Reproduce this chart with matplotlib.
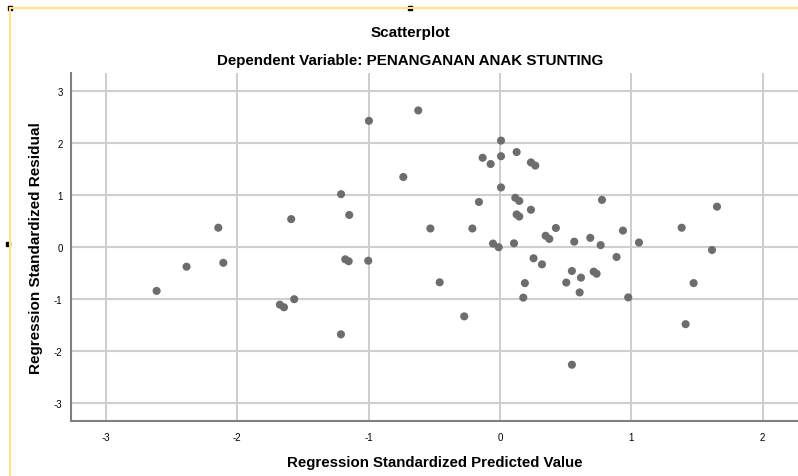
import matplotlib
matplotlib.use("Agg")
import matplotlib.pyplot as plt
from matplotlib.lines import Line2D
from matplotlib.patches import Rectangle

plt.rcParams['font.family'] = ['Liberation Sans', 'DejaVu Sans']

predicted = [-2.145, -1.59, -0.998, -0.622, 0.008, 0.127, -0.132, -0.071, 0.008, 0.236,
             0.269, -0.736, 0.008, -1.21, -0.16, 0.117, 0.147, 0.236, -1.148, 0.127,
             0.147, -0.53, -0.21, 0.426, 0.348, 0.376, -0.053, -0.01, 0.107, 0.777,
             1.653, 1.384, 0.566, 0.688, 0.937, 0.767, 1.059, 1.615, -2.387, -2.107,
             -2.615, -1.676, -1.645, -1.567, -1.178, -1.152, -1.003, -0.459, -0.272, -1.211,
             0.256, 0.32, 0.19, 0.178, 0.548, 0.617, 0.505, 0.607, 0.714, 0.736,
             0.888, 0.977, 1.475, 1.414, 0.548]
residual = [0.365, 0.53, 2.42, 2.62, 2.04, 1.82, 1.71, 1.59, 1.74, 1.62,
            1.56, 1.34, 1.14, 1.01, 0.86, 0.94, 0.88, 0.71, 0.61, 0.62,
            0.58, 0.35, 0.35, 0.36, 0.21, 0.15, 0.06, -0.01, 0.065, 0.90,
            0.77, 0.365, 0.096, 0.17, 0.31, 0.03, 0.08, -0.063, -0.385, -0.31,
            -0.85, -1.115, -1.165, -1.01, -0.243, -0.28, -0.27, -0.685, -1.34, -1.685,
            -0.223, -0.34, -0.70, -0.98, -0.467, -0.595, -0.69, -0.88, -0.48, -0.52,
            -0.198, -0.975, -0.70, -1.49, -2.27]
x_ticks = [-3, -2, -1, 0, 1, 2]
y_ticks = [-3, -2, -1, 0, 1, 2, 3]

W, H = 798, 477
fig = plt.figure(figsize=(W / 100, H / 100), dpi=100)
ax = fig.add_axes([71 / W, 1 - 422 / H, (798 - 71) / W, (422 - 74) / H])

ax.set_xlim(-3.267, 2.27)
ax.set_ylim(-3.352, 3.34)
ax.set_xticks(x_ticks)
ax.set_yticks(y_ticks)
ax.set_xticklabels([str(t) for t in x_ticks])
ax.set_yticklabels([str(t) for t in y_ticks])
ax.tick_params(length=0, labelsize=7, pad=8, colors='black')
ax.tick_params(axis='y', pad=6)

for t in x_ticks:
    ax.axvline(t, color='#c0c0c0', lw=1.1, zorder=1)
for t in y_ticks:
    ax.axhline(t, color='#cfcfcf', lw=1.5, zorder=1)

for s in ['top', 'right']:
    ax.spines[s].set_visible(False)
for s in ['left', 'bottom']:
    ax.spines[s].set_color('#808080')
    ax.spines[s].set_linewidth(1.5)

ax.scatter(predicted, residual, s=34, color='#6d6d6d', edgecolors='none', zorder=3)

ax.set_xlabel('Regression Standardized Predicted Value', fontsize=10.8, fontweight='bold', labelpad=9)
ax.set_ylabel('Regression Standardized Residual', fontsize=11, fontweight='bold', labelpad=8)

fig.text(410 / W, 1 - 33 / H, 'Scatterplot', ha='center', va='center', fontsize=11, fontweight='bold')
fig.text(410 / W, 1 - 61 / H, 'Dependent Variable: PENANGANAN ANAK STUNTING', ha='center', va='center',
         fontsize=10.9, fontweight='bold')

# selection frame (yellow) and handles
fig.add_artist(Line2D([10 / W, 1], [1 - 9 / H, 1 - 9 / H], color='#ffe38a', lw=1.5, transform=fig.transFigure))
fig.add_artist(Line2D([10 / W, 10 / W], [0, 1 - 9 / H], color='#ffe38a', lw=1.5, transform=fig.transFigure))
for (hx, hy) in [(10, 9), (410, 9), (8, 245)]:
    fig.add_artist(Rectangle(((hx - 2) / W, 1 - (hy + 2) / H), 4 / W, 4 / H, color='black',
                             transform=fig.transFigure))

fig.savefig('out.png', dpi=100)
